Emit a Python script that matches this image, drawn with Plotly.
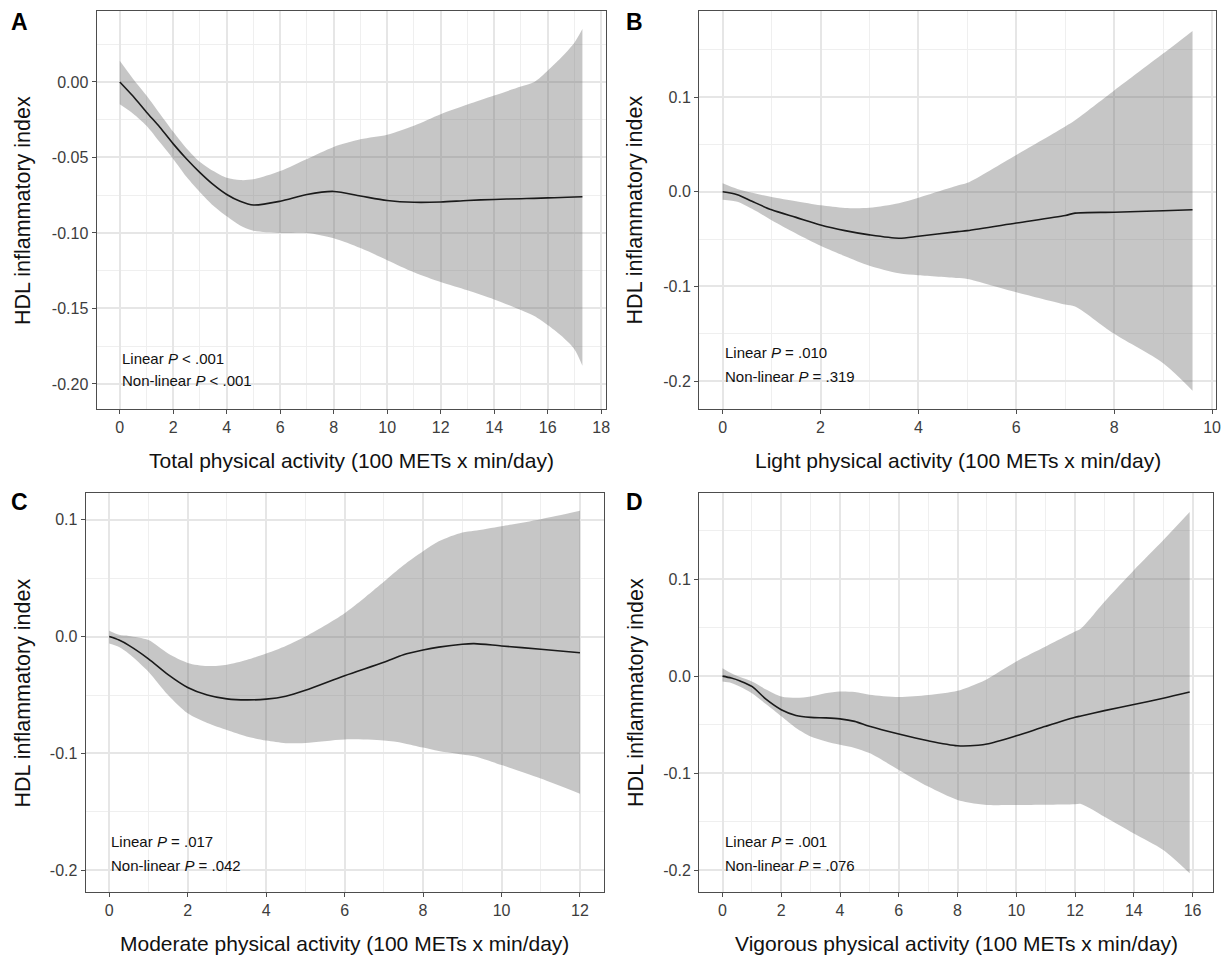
import plotly.graph_objects as go

# ---------------- data ----------------
# Panel A: Total physical activity
a_x = [0, 0.5, 1, 1.5, 2, 2.5, 3, 3.5, 4, 4.5, 5, 6, 7, 8, 9, 10, 11, 12, 13, 14, 15, 15.5, 16, 16.5, 17, 17.3]
a_fit = [0.000, -0.0095, -0.020, -0.030, -0.041, -0.051, -0.060, -0.068, -0.0745, -0.079, -0.0815, -0.0790,
         -0.0745, -0.0725, -0.0755, -0.0785, -0.0797, -0.0795, -0.0785, -0.0778, -0.0773, -0.0771, -0.0768,
         -0.0765, -0.0762, -0.0760]
a_upper = [0.014, 0.002, -0.009, -0.021, -0.033, -0.044, -0.053, -0.059, -0.0635, -0.065, -0.0645, -0.059,
           -0.051, -0.043, -0.038, -0.035, -0.029, -0.0214, -0.015, -0.009, -0.003, 0.000, 0.0075, 0.016,
           0.026, 0.035]
a_lower = [-0.0148, -0.021, -0.029, -0.040, -0.051, -0.063, -0.073, -0.082, -0.089, -0.095, -0.0985, -0.100,
           -0.100, -0.1035, -0.110, -0.118, -0.126, -0.1325, -0.138, -0.144, -0.151, -0.155, -0.161, -0.168,
           -0.177, -0.188]

# Panel B: Light physical activity
b_x = [0, 0.3, 0.6, 1, 1.5, 2, 2.5, 3, 3.6, 4, 4.8, 5, 6, 7, 7.2, 8, 9, 9.6]
b_fit = [0.000, -0.003, -0.010, -0.019, -0.027, -0.035, -0.041, -0.0455, -0.049, -0.047, -0.042, -0.041,
         -0.033, -0.025, -0.0225, -0.0215, -0.020, -0.019]
b_upper = [0.009, 0.003, -0.001, -0.0056, -0.010, -0.0143, -0.017, -0.0168, -0.012, -0.0063, 0.0066, 0.0095,
           0.039, 0.069, 0.0755, 0.107, 0.146, 0.170]
b_lower = [-0.0084, -0.0105, -0.018, -0.030, -0.044, -0.057, -0.068, -0.078, -0.086, -0.088, -0.091, -0.092,
           -0.106, -0.119, -0.121, -0.150, -0.181, -0.210]

# Panel C: Moderate physical activity
c_x = [0, 0.25, 0.5, 1, 1.5, 2, 2.5, 3, 3.5, 4, 4.5, 5, 6, 7, 7.5, 8, 8.4, 9, 9.3, 10, 11, 12]
c_fit = [0.000, -0.003, -0.0075, -0.019, -0.0325, -0.0435, -0.050, -0.0533, -0.0542, -0.0535, -0.051, -0.046,
         -0.0335, -0.022, -0.0155, -0.0115, -0.009, -0.0065, -0.006, -0.008, -0.0108, -0.0138]
c_upper = [0.005, 0.0015, 0.0005, -0.003, -0.0145, -0.0225, -0.0252, -0.024, -0.020, -0.0145, -0.008, 0.000,
           0.020, 0.047, 0.061, 0.073, 0.0815, 0.089, 0.0905, 0.0945, 0.1005, 0.1077]
c_lower = [-0.006, -0.009, -0.0146, -0.030, -0.050, -0.0657, -0.074, -0.080, -0.0855, -0.089, -0.0912, -0.091,
           -0.088, -0.089, -0.0912, -0.095, -0.098, -0.101, -0.1025, -0.110, -0.1215, -0.1345]

# Panel D: Vigorous physical activity
d_x = [0, 0.3, 0.6, 1, 1.5, 2, 2.5, 3, 3.5, 4, 4.5, 5, 6, 7, 8, 8.7, 9, 10, 11, 12, 12.2, 13, 14, 15, 15.9]
d_fit = [0.000, -0.002, -0.005, -0.0106, -0.0243, -0.0346, -0.0405, -0.0425, -0.043, -0.044, -0.0466, -0.0517,
         -0.0597, -0.0666, -0.0717, -0.0712, -0.070, -0.0614, -0.0517, -0.0424, -0.041, -0.0355, -0.0293,
         -0.0228, -0.0164]
d_upper = [0.0082, 0.003, -0.001, -0.0055, -0.014, -0.0209, -0.0223, -0.0209, -0.0175, -0.0158, -0.0164,
           -0.0192, -0.0216, -0.0195, -0.0151, -0.0072, -0.0031, 0.0151, 0.0305, 0.0459, 0.049, 0.0767,
           0.1092, 0.140, 0.169]
d_lower = [-0.0055, -0.007, -0.011, -0.0175, -0.0293, -0.0414, -0.0534, -0.0621, -0.067, -0.0707, -0.074,
           -0.0793, -0.0966, -0.1138, -0.1276, -0.1318, -0.1328, -0.1328, -0.1325, -0.132, -0.1317, -0.1448,
           -0.162, -0.179, -0.203]

# tick labels
a_xticks = [0, 2, 4, 6, 8, 10, 12, 14, 16, 18]
b_xticks = [0, 2, 4, 6, 8, 10]
c_xticks = [0, 2, 4, 6, 8, 10, 12]
d_xticks = [0, 2, 4, 6, 8, 10, 12, 14, 16]
a_yticks = [0.00, -0.05, -0.10, -0.15, -0.20]
a_yticktext = ["0.00", "-0.05", "-0.10", "-0.15", "-0.20"]
bcd_yticks = [0.1, 0.0, -0.1, -0.2]
bcd_yticktext = ["0.1", "0.0", "-0.1", "-0.2"]

x_titles = ["Total physical activity (100 METs x min/day)",
            "Light physical activity (100 METs x min/day)",
            "Moderate physical activity (100 METs x min/day)",
            "Vigorous physical activity (100 METs x min/day)"]
y_title = "HDL inflammatory index"
panel_labels = ["A", "B", "C", "D"]
linear_text = ["Linear <i>P</i> &lt; .001", "Linear <i>P</i> = .010",
               "Linear <i>P</i> = .017", "Linear <i>P</i> = .001"]
nonlinear_text = ["Non-linear <i>P</i> &lt; .001", "Non-linear <i>P</i> = .319",
                  "Non-linear <i>P</i> = .042", "Non-linear <i>P</i> = .076"]

# ---------------- layout helpers ----------------
W, H, OFF = 1216, 947, 8


def fx(px):
    return (px - OFF) / W


def fy(py):
    return 1 - (py - OFF) / H


FONT = "Liberation Sans, Arial, Helvetica, sans-serif"
BAND = "rgba(105,105,105,0.38)"

panels = [
    dict(x=a_x, fit=a_fit, lo=a_lower, hi=a_upper, frame=(97, 608, 11, 409),
         xr=[-0.865, 18.165], yr=[-0.2166, 0.047], xt=a_xticks,
         yt=a_yticks, ytt=a_yticktext, ymin_vals=[0.025, -0.025, -0.075, -0.125, -0.175],
         ann_y=(-0.183, -0.198), label_pos=(20, 22), ytitle_x=23, xtitle_y=460),
    dict(x=b_x, fit=b_fit, lo=b_lower, hi=b_upper, frame=(702, 1221, 11, 409),
         xr=[-0.48, 10.08], yr=[-0.2294, 0.191], xt=b_xticks,
         yt=bcd_yticks, ytt=bcd_yticktext, ymin_vals=[0.15, 0.05, -0.05, -0.15],
         ann_y=(-0.170, -0.195), label_pos=(637, 22), ytitle_x=638, xtitle_y=460),
    dict(x=c_x, fit=c_fit, lo=c_lower, hi=c_upper, frame=(86, 606, 493, 892),
         xr=[-0.6, 12.6], yr=[-0.2186, 0.1229], xt=c_xticks,
         yt=bcd_yticks, ytt=bcd_yticktext, ymin_vals=[0.05, -0.05, -0.15],
         ann_y=(-0.1757, -0.1963), label_pos=(20, 502), ytitle_x=23, xtitle_y=943),
    dict(x=d_x, fit=d_fit, lo=d_lower, hi=d_upper, frame=(702, 1218, 493, 892),
         xr=[-0.795, 16.695], yr=[-0.2224, 0.1887], xt=d_xticks,
         yt=bcd_yticks, ytt=bcd_yticktext, ymin_vals=[0.15, 0.05, -0.05, -0.15],
         ann_y=(-0.1707, -0.1955), label_pos=(637, 502), ytitle_x=638, xtitle_y=943),
]

fig = go.Figure()
annotations = []
layout_axes = {}

for i, p in enumerate(panels):
    n = "" if i == 0 else str(i + 1)
    xa, ya = "x" + n, "y" + n
    fig.add_trace(go.Scatter(x=p["x"], y=p["lo"], mode="lines", line=dict(width=0, shape="spline", smoothing=0.8),
                             xaxis=xa, yaxis=ya, showlegend=False, hoverinfo="skip"))
    fig.add_trace(go.Scatter(x=p["x"], y=p["hi"], mode="lines", line=dict(width=0, shape="spline", smoothing=0.8),
                             fill="tonexty", fillcolor=BAND, xaxis=xa, yaxis=ya, showlegend=False,
                             hoverinfo="skip"))
    fig.add_trace(go.Scatter(x=p["x"], y=p["fit"], mode="lines",
                             line=dict(color="#1a1a1a", width=1.6, shape="spline", smoothing=0.8),
                             xaxis=xa, yaxis=ya, showlegend=False))

    x0, x1, y0, y1 = p["frame"]
    common = dict(showline=True, mirror=True, linecolor="#4d4d4d", linewidth=1.2,
                  ticks="outside", ticklen=4, tickcolor="#4d4d4d", tickwidth=1,
                  showgrid=True, gridcolor="#e6e6e6", gridwidth=1.8, zeroline=False,
                  tickfont=dict(family=FONT, size=16, color="#3d3d3d"))
    layout_axes["xaxis" + n] = dict(common, domain=[fx(x0), fx(x1)], range=p["xr"], anchor=ya,
                                    tickmode="array", tickvals=p["xt"],
                                    ticktext=[str(v) for v in p["xt"]],
                                    minor=dict(tick0=1, dtick=2, showgrid=True,
                                               gridcolor="#efefef", gridwidth=1.0, ticks=""))
    layout_axes["yaxis" + n] = dict(common, domain=[fy(y1), fy(y0)], range=p["yr"], anchor=xa,
                                    tickmode="array", tickvals=p["yt"], ticktext=p["ytt"],
                                    minor=dict(tickmode="array", tickvals=p["ymin_vals"], showgrid=True,
                                               gridcolor="#efefef", gridwidth=1.0, ticks=""))

    # p-value annotations
    for txt, yy in zip([linear_text[i], nonlinear_text[i]], p["ann_y"]):
        annotations.append(dict(x=0, y=yy, xref=xa, yref=ya, text=txt, showarrow=False,
                                xanchor="left", yanchor="middle",
                                font=dict(family=FONT, size=15, color="#111111")))
    # panel letter
    lx, ly = p["label_pos"]
    annotations.append(dict(x=fx(lx), y=fy(ly), xref="paper", yref="paper", text="<b>%s</b>" % panel_labels[i],
                            showarrow=False, xanchor="center", yanchor="middle",
                            font=dict(family=FONT, size=23, color="#000000")))
    # x title
    annotations.append(dict(x=fx((x0 + x1) / 2), y=fy(p["xtitle_y"]), xref="paper", yref="paper",
                            text=x_titles[i], showarrow=False, xanchor="center", yanchor="middle",
                            font=dict(family=FONT, size=21, color="#111111")))
    # y title
    annotations.append(dict(x=fx(p["ytitle_x"]), y=fy((y0 + y1) / 2), xref="paper", yref="paper",
                            text=y_title, showarrow=False, xanchor="center", yanchor="middle", textangle=-90,
                            font=dict(family=FONT, size=21.5, color="#111111")))

fig.update_layout(
    width=W, height=H, margin=dict(l=0, r=0, t=0, b=0),
    paper_bgcolor="white", plot_bgcolor="white",
    font=dict(family=FONT),
    annotations=annotations,
    **layout_axes,
)

fig.write_html("out.html")
